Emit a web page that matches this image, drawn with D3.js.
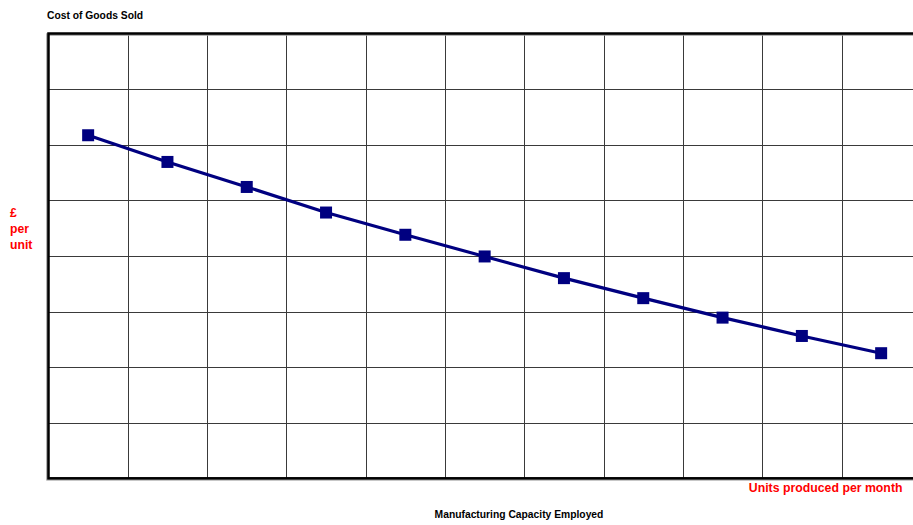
<!DOCTYPE html>
<html>
<head>
<meta charset="utf-8">
<script src="https://cdn.jsdelivr.net/npm/d3@7"></script>
<style>
html,body{margin:0;padding:0;background:#fff;overflow:hidden;}
svg{display:block;font-family:"Liberation Sans",Arial,sans-serif;}
</style>
</head>
<body>
<svg id="chart" width="913" height="525"></svg>
<script>
// ---- data ----
const categories = ["1","2","3","4","5","6","7","8","9","10","11"];
const costPerUnit = [6.17, 5.69, 5.24, 4.78, 4.38, 3.99, 3.60, 3.24, 2.89, 2.56, 2.25];
const yTicks = [0,1,2,3,4,5,6,7,8];
const title = "Cost of Goods Sold";
const yLabel = ["£","per","unit"];
const xUnitsLabel = "Units produced per month";
const xTitle = "Manufacturing Capacity Employed";

// ---- layout ----
const svg = d3.select("#chart");
const pLeft = 48.5, pRight = 920.8, pTop = 33.5, pBottom = 478.3;

const x = d3.scaleBand().domain(categories).range([pLeft, pRight]).paddingInner(0).paddingOuter(0);
const y = d3.scaleLinear().domain([0, 8]).range([pBottom, pTop]);

// horizontal gridlines
svg.append("g").selectAll("line").data(yTicks.slice(1, -1)).join("line")
  .attr("x1", pLeft).attr("x2", pRight)
  .attr("y1", d => Math.round(y(d)) + 0.5).attr("y2", d => Math.round(y(d)) + 0.5)
  .attr("stroke", "#3a3a3a").attr("stroke-width", 1);

// vertical gridlines at category boundaries
svg.append("g").selectAll("line").data(categories.slice(1)).join("line")
  .attr("x1", d => Math.round(x(d)) + 0.5).attr("x2", d => Math.round(x(d)) + 0.5)
  .attr("y1", pTop).attr("y2", pBottom)
  .attr("stroke", "#3a3a3a").attr("stroke-width", 1);

// frame shadow + frame
svg.append("rect")
  .attr("x", pLeft - 1).attr("y", pTop + 1)
  .attr("width", pRight - pLeft).attr("height", pBottom - pTop)
  .attr("fill", "none").attr("stroke", "#9a9a9a").attr("stroke-width", 2.5);
svg.append("rect")
  .attr("x", pLeft).attr("y", pTop)
  .attr("width", pRight - pLeft).attr("height", pBottom - pTop)
  .attr("fill", "none").attr("stroke", "#000").attr("stroke-width", 2.5);

// line
const cx = d => x(d) + x.bandwidth() / 2;
const pts = categories.map((c, i) => [cx(c), y(costPerUnit[i])]);
svg.append("path")
  .attr("d", d3.line()(pts))
  .attr("fill", "none").attr("stroke", "#000080").attr("stroke-width", 3.2)
  .attr("stroke-linejoin", "round");

// markers
const ms = 12;
svg.append("g").selectAll("rect").data(pts).join("rect")
  .attr("x", d => d[0] - ms / 2).attr("y", d => d[1] - ms / 2)
  .attr("width", ms).attr("height", ms)
  .attr("fill", "#000080");

// texts
svg.append("text").attr("x", 47).attr("y", 18.5)
  .attr("font-size", 10.3).attr("font-weight", "bold").attr("fill", "#000")
  .text(title);

svg.append("g").selectAll("text").data(yLabel).join("text")
  .attr("x", 10).attr("y", (d, i) => 217 + i * 16)
  .attr("font-size", 12.2).attr("font-weight", "bold").attr("fill", "#ff0000")
  .text(d => d);

svg.append("text").attr("x", 902.5).attr("y", 491.5)
  .attr("text-anchor", "end")
  .attr("font-size", 12.3).attr("font-weight", "bold").attr("fill", "#ff0000")
  .text(xUnitsLabel);

svg.append("text").attr("x", 519).attr("y", 518)
  .attr("text-anchor", "middle")
  .attr("font-size", 10.3).attr("font-weight", "bold").attr("fill", "#000")
  .text(xTitle);
</script>
</body>
</html>
